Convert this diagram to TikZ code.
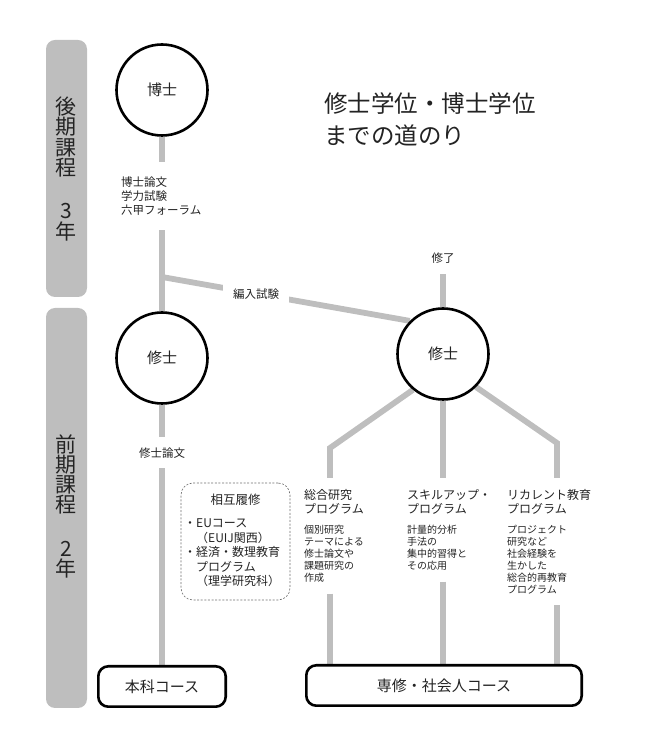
\documentclass[tikz,border=0pt]{standalone}
\usepackage{fontspec}
\setmainfont{Noto Sans CJK JP}
\usepackage{tikz}
\usetikzlibrary{positioning, calc, backgrounds}
\definecolor{mygrey}{RGB}{190,190,190}
\definecolor{mytext}{RGB}{35,35,35}
\definecolor{mydash}{RGB}{110,110,110}
\newcommand{\fsz}[2]{\fontsize{#1}{#2}\selectfont}
\tikzset{
  degree/.style={circle, draw=black, fill=white, minimum size=91pt,
    line width=2.6pt, font=\fsz{15}{18}, text=mytext},
  course/.style={rectangle, draw=black, fill=white, minimum height=40.4pt,
    rounded corners=10pt, line width=2.6pt, font=\fsz{15}{18}, text=mytext},
  gline/.style={line width=5.8pt, color=mygrey},
  bartext/.style={align=center, inner sep=0pt, text=mytext},
  steplabel/.style={font=\fsz{11.5}{14}, text=mytext, inner xsep=0pt},
  heading/.style={anchor=north west, align=left, font=\fsz{12}{14.5},
    inner xsep=0pt, inner ysep=11pt, text=mytext},
  detail/.style={anchor=north west, align=left, font=\fsz{10}{12},
    inner xsep=0pt, inner ysep=11pt, text=mytext},
  dashbox/.style={rectangle, draw=mydash, dash pattern=on 2pt off 1.6pt,
    rounded corners=12pt, line width=0.6pt, minimum width=109pt, minimum height=117pt}
}
\begin{document}
\begin{tikzpicture}[x=1pt, y=1pt]
  \useasboundingbox (0,0) rectangle (672,756);
  % period bars
  \fill[mygrey, rounded corners=9pt] (46,459) rectangle (87,716);
  \fill[mygrey, rounded corners=9pt] (46,48) rectangle (87,448);
  \node[bartext, font=\fsz{21}{20.5}] (kouki) at (66.5,619) {後\\期\\課\\程};
  \node[bartext, font=\fsz{21}{21}] (koukiyr) at (66.5,533.5) {3\\年};
  \node[bartext, font=\fsz{21}{20}] (zenki) at (66.5,282) {前\\期\\課\\程};
  \node[bartext, font=\fsz{21}{20}] (zenkiyr) at (66.5,196) {2\\年};

  \node[anchor=west, align=left, font=\fsz{23.5}{32}, inner sep=0pt, text=mytext]
    (title) at (324,637) {修士学位・博士学位\\までの道のり};

  \node[degree] (hakase) at (162,666) {博士};
  \node[degree] (shushiL) at (162,398) {修士};
  \node[degree] (shushiR) at (443,402) {修士};

  \node[steplabel, anchor=west, align=left, inner ysep=15pt] (dthesis) at (121,560)
    {博士論文\\学力試験\\六甲フォーラム};
  \node[steplabel, inner ysep=10pt] (mthesis) at (162,303) {修士論文};
  \node[steplabel, inner ysep=11pt] (shuryo) at (443,498) {修了};
  \coordinate (junction) at (162,479);

  \node[heading] (sogoH) at (304,278) {総合研究\\プログラム};
  \node[detail] (sogoD) at (304,242) {個別研究\\テーマによる\\修士論文や\\課題研究の\\作成};
  \node[heading] (skillH) at (407,278) {スキルアップ・\\プログラム};
  \node[detail] (skillD) at (407,242) {計量的分析\\手法の\\集中的習得と\\その応用};
  \node[heading] (recurH) at (507,278) {リカレント教育\\プログラム};
  \node[detail] (recurD) at (507,242) {プロジェクト\\研究など\\社会経験を\\生かした\\総合的再教育\\プログラム};
  \coordinate (bendL) at (330,308);
  \coordinate (bendR) at (557,313);

  \node[course, minimum width=127.4pt] (honka) at (162,69.5) {本科コース};
  \node[course, minimum width=275.4pt] (senshu) at (444,70.5) {専修・社会人コース};

  % mutual enrolment
  \node[dashbox] (sogo) at (235.5,214.5) {};
  \node[font=\fsz{12.5}{15}, text=mytext, inner sep=0pt] (sogoT) at (235.5,256) {相互履修};
  \node[anchor=north west, align=left, font=\fsz{12}{14.4}, inner sep=0pt, text=mytext]
    (sogoL) at (184,237) {・EUコース\\\phantom{・}（EUIJ関西）\\・経済・数理教育\\\phantom{・}プログラム\\\phantom{・}（理学研究科）};

  \begin{scope}[on background layer]
    \draw[gline] (hakase) -- (hakase |- dthesis.north);
    \draw[gline] (hakase |- dthesis.south) -- (shushiL);
    \draw[gline] (junction) -- node[steplabel, pos=0.38, fill=white, inner xsep=10pt,
      inner ysep=4pt] (hennyu) {編入試験} (shushiR.135);
    \draw[gline] (shuryo) -- (shushiR);
    \draw[gline] (shushiL) -- (mthesis);
    \draw[gline] (mthesis) -- (honka);
    \draw[gline] (shushiR.230) -- (bendL) -- (bendL |- sogoH.north);
    \draw[gline] (shushiR) -- (shushiR |- skillH.north);
    \draw[gline] (shushiR.315) -- (bendR) -- (bendR |- recurH.north);
    \draw[gline] (bendL |- sogoD.south) -- (bendL |- senshu.north);
    \draw[gline] (shushiR |- skillD.south) -- (shushiR |- senshu.north);
    \draw[gline] (bendR |- recurD.south) -- (bendR |- senshu.north);
  \end{scope}
\end{tikzpicture}
\end{document}
